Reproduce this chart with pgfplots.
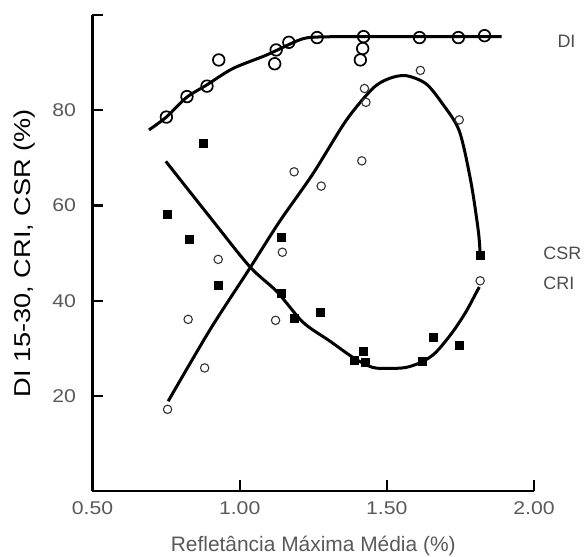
\documentclass[border=0pt]{standalone}
\usepackage{fontspec}
\setmainfont{Liberation Sans}
\usepackage{pgfplots}
\pgfplotsset{compat=1.18}
\newcommand{\tl}[1]{\scalebox{1.15}[1]{#1}}
\begin{document}
\begin{tikzpicture}
\begin{axis}[
  scale only axis,
  width=441.5bp, height=476bp,
  xmin=0.5, xmax=2.0, ymin=0, ymax=100,
  axis lines=left,
  axis line style={-, line width=2.2bp},
  clip=false,
  tick align=inside,
  major tick length=11bp,
  every tick/.style={black, line width=2.2bp},
  xtick={0.5,1.0,1.5,2.0},
  xticklabels={\tl{0.50},\tl{1.00},\tl{1.50},\tl{2.00}},
  ytick={20,40,60,80,100},
  yticklabels={\tl{20},\tl{40},\tl{60},\tl{80},},
  /pgf/number format/assume math mode=true,
  tick label style={font=\fontsize{18.5}{20}\selectfont, text=black!65},
  yticklabel style={xshift=-13bp},
  xticklabel style={yshift=-7bp},
  xlabel={Refletância Máxima Média (\%)},
  ylabel={\scalebox{1.09}[0.92]{DI 15-30, CRI, CSR (\%)}},
  xlabel style={at={(axis description cs:0.5,-0.1155)}, anchor=center, font=\fontsize{21}{24}\selectfont, text=black!65},
  ylabel style={at={(axis description cs:-0.153,0.5)}, anchor=center, font=\fontsize{25}{28}\selectfont, text=black},
]
% DI fitted line
\addplot[black, line width=3bp, smooth, tension=0.5, no marks] coordinates {
(0.692,75.9) (0.751,78.6) (0.819,82.7) (0.887,85.3) (0.977,88.8) (1.090,91.6) (1.203,94.8) (1.260,95.4) (1.40,95.5) (1.60,95.5) (1.890,95.5)};
% CSR fitted line
\addplot[black, line width=3bp, smooth, tension=0.5, no marks] coordinates {
(0.757,18.9) (0.90,34.0) (1.034,46.8) (1.136,56.7) (1.248,66.6) (1.362,77.9) (1.452,84.6) (1.508,86.7) (1.565,87.3) (1.633,85.6) (1.689,81.4) (1.746,75.7) (1.785,65.2) (1.811,54.6) (1.817,49.6)};
% CRI fitted line
\addplot[black, line width=3bp, smooth, tension=0.5, no marks] coordinates {
(0.749,69.3) (0.90,57.5) (1.034,47.2) (1.127,41.9) (1.215,35.5) (1.305,31.6) (1.390,27.9) (1.452,26.0) (1.508,25.8) (1.565,26.0) (1.621,27.2) (1.667,29.2) (1.723,33.4) (1.768,37.6) (1.802,41.5) (1.814,42.9)};
% DI points
\addplot[only marks, mark=o, mark size=5.8bp, mark options={fill=white, draw=black, line width=1.7bp}] coordinates {
(0.751,78.6) (0.821,82.9) (0.889,85.1) (0.929,90.6) (1.119,89.8) (1.124,92.7) (1.167,94.3) (1.263,95.3) (1.421,95.5) (1.418,93.0) (1.410,90.6) (1.611,95.3) (1.743,95.3) (1.832,95.7)};
% CSR points
\addplot[only marks, mark=o, mark size=4.2bp, mark options={fill=white, draw=black!80, line width=1.1bp}] coordinates {
(0.755,17.2) (0.825,36.1) (0.881,25.9) (0.927,48.7) (1.122,35.9) (1.145,50.2) (1.185,67.1) (1.277,64.1) (1.415,69.4) (1.424,84.6) (1.429,81.7) (1.614,88.4) (1.746,78.0) (1.817,44.2)};
% CRI points
\addplot[only marks, mark=square*, mark size=4bp, mark options={fill=black, draw=black, rounded corners=1bp}] coordinates {
(0.876,73.1) (0.755,58.2) (0.828,53.0) (1.141,53.3) (0.927,43.2) (1.141,41.5) (1.186,36.4) (1.274,37.6) (1.390,27.6) (1.418,29.5) (1.427,27.2) (1.621,27.3) (1.658,32.4) (1.746,30.7) (1.817,49.5)};
\node[anchor=west, font=\fontsize{18}{20}\selectfont, text=black!70] at (axis cs:2.068,94.6) {DI};
\node[anchor=west, font=\fontsize{18}{20}\selectfont, text=black!70] at (axis cs:2.020,50.0) {CSR};
\node[anchor=west, font=\fontsize{18}{20}\selectfont, text=black!70] at (axis cs:2.020,43.6) {CRI};
\end{axis}
\pgfresetboundingbox
\path (current axis.south west) ++(-92.5bp,-65.8bp) rectangle ++(585bp,557bp);
\end{tikzpicture}
\end{document}
